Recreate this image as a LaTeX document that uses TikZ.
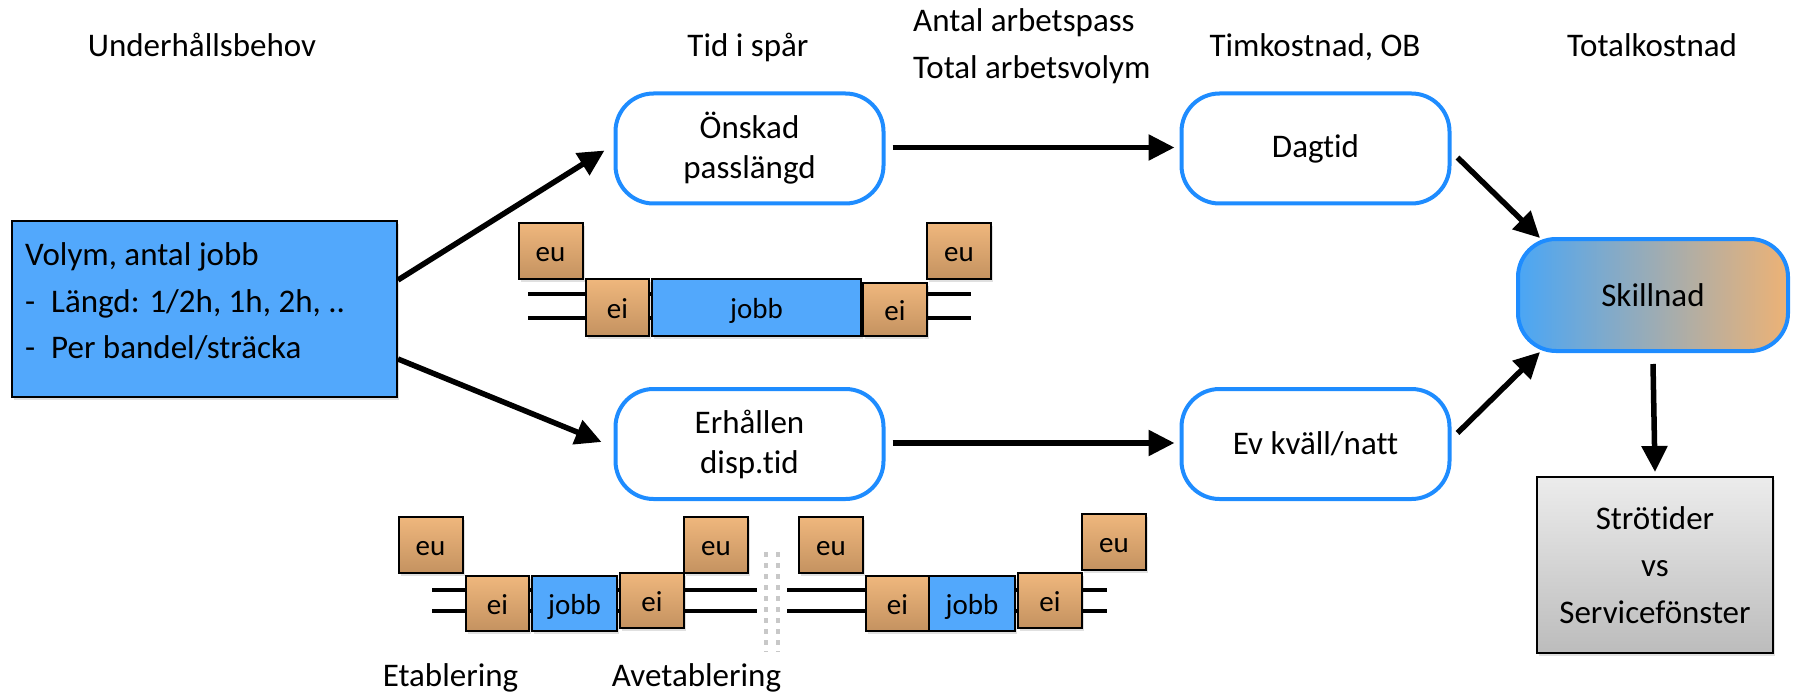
\documentclass[tikz,border=0pt]{standalone}
\usepackage{fontspec}
\setmainfont{Carlito}[Ligatures=NoCommon]
\usetikzlibrary{arrows.meta,shadows}

\definecolor{jobblue}{RGB}{82,168,252}
\definecolor{edgeblue}{RGB}{30,140,255}
\definecolor{orangetop}{RGB}{239,183,125}
\definecolor{orangebot}{RGB}{196,146,96}
\definecolor{diffleft}{RGB}{74,166,245}
\definecolor{diffright}{RGB}{237,178,117}
\definecolor{greytop}{RGB}{236,236,236}
\definecolor{greybot}{RGB}{188,188,188}
\definecolor{dotgrey}{RGB}{200,200,200}

\tikzset{
  txt/.style={font=\fontsize{33}{40}\selectfont, inner sep=0pt},
  small/.style={font=\fontsize{29}{32}\selectfont, text height=24pt, text depth=3pt},
  softshadow/.style={drop shadow={shadow xshift=2pt, shadow yshift=-3pt, opacity=0.12, fill=black}},
  roundbox/.style={draw=edgeblue, line width=4pt, rounded corners=38pt, fill=white,
    minimum width=268pt, minimum height=110pt, inner sep=0pt, align=center,
    font=\fontsize{33}{40}\selectfont},
  needbox/.style={draw=black, line width=2pt, fill=jobblue, inner sep=0pt, softshadow},
  eubox/.style={draw=black, line width=2pt, top color=orangetop, bottom color=orangebot,
    inner sep=0pt, minimum width=64pt, minimum height=56pt, small, softshadow},
  jobbox/.style={draw=black, line width=2pt, fill=jobblue, inner sep=0pt,
    minimum height=56pt, small, softshadow},
  rail/.style={line width=4.5pt, black},
  arr/.style={line width=5.5pt, -{Triangle[length=26pt,width=25pt]}},
  sep/.style={line width=4.5pt, dotgrey, dash pattern=on 4.5pt off 6.5pt},
}

\begin{document}
\begin{tikzpicture}[x=1pt,y=-1pt]
\useasboundingbox (0,0) rectangle (1793,695);

% column headings
\node[txt, anchor=base] (hneed) at (202,57) {Underhållsbehov};
\node[txt, anchor=base] (htrack) at (748,57) {Tid i spår};
\node[txt, anchor=base west] (hshifts) at (913,32) {Antal arbetspass};
\node[txt, anchor=base west] (hvolume) at (913,79) {Total arbetsvolym};
\node[txt, anchor=base] (hrate) at (1315,57) {Timkostnad, OB};
\node[txt, anchor=base] (htotal) at (1652,57) {Totalkostnad};

% maintenance need
\node[needbox, minimum width=385pt, minimum height=176pt] (need) at (204.5,309) {};
\node[txt, anchor=base west] (need1) at (25,265) {Volym, antal jobb};
\node[txt, anchor=base west] (need2) at (25,312) {\makebox[26pt][l]{-}Längd: 1/2h, 1h, 2h, ..};
\node[txt, anchor=base west] (need3) at (25,358) {\makebox[26pt][l]{-}Per bandel/sträcka};

% track time and shift boxes
\node[roundbox] (want) at (749.5,148.5) {Önskad\\passlängd};
\node[roundbox] (got) at (749.5,444) {Erhållen\\disp.tid};
\node[roundbox] (day) at (1315.5,148.5) {Dagtid};
\node[roundbox] (night) at (1315.5,444) {Ev kväll/natt};

% difference and result
\node[draw=edgeblue, line width=4pt, rounded corners=38pt, left color=diffleft, right color=diffright,
  minimum width=270pt, minimum height=112pt, inner sep=0pt, txt] (diff) at (1653,295) {Skillnad};
\node[draw=black, line width=2pt, top color=greytop, bottom color=greybot, softshadow,
  minimum width=236pt, minimum height=176pt, inner sep=0pt, align=center,
  font=\fontsize{33}{47}\selectfont] (window) at (1655,565) {Strötider\\vs\\Servicefönster};

% desired shift: rails and blocks
\coordinate (r1a) at (528,294); \coordinate (r1b) at (971,294);
\coordinate (r2a) at (528,318); \coordinate (r2b) at (971,318);
\draw[rail] (r1a) -- (r1b);
\draw[rail] (r2a) -- (r2b);
\node[eubox] (eu1) at (550.5,251) {eu};
\node[eubox, minimum width=63pt, minimum height=57pt] (ei1) at (617.5,307.5) {ei};
\node[jobbox, minimum width=209pt, minimum height=57pt] (job1) at (756.5,307.5) {jobb};
\node[eubox, minimum height=53pt] (ei2) at (895,309.5) {ei};
\node[eubox] (eu2) at (959,251) {eu};

% granted time: two short windows
\coordinate (s1a) at (432,590); \coordinate (s1b) at (757,590);
\coordinate (s2a) at (432,611); \coordinate (s2b) at (757,611);
\coordinate (t1a) at (787,590); \coordinate (t1b) at (1107,590);
\coordinate (t2a) at (787,611); \coordinate (t2b) at (1107,611);
\draw[rail] (s1a) -- (s1b);
\draw[rail] (s2a) -- (s2b);
\draw[rail] (t1a) -- (t1b);
\draw[rail] (t2a) -- (t2b);

\node[eubox] (eu3) at (430.5,545) {eu};
\node[eubox, minimum width=63pt, minimum height=55pt] (ei3) at (497.5,603.5) {ei};
\node[jobbox, minimum width=85pt, minimum height=55pt] (job2) at (574.5,603.5) {jobb};
\node[eubox, minimum height=55pt] (ei4) at (652,600.5) {ei};
\node[eubox] (eu4) at (716,545) {eu};

\node[eubox] (eu5) at (831,545) {eu};
\node[eubox, minimum width=63pt, minimum height=55pt] (ei5) at (897.5,603.5) {ei};
\node[jobbox, minimum width=86pt, minimum height=55pt] (job3) at (972,603.5) {jobb};
\node[eubox, minimum height=55pt] (ei6) at (1050,600.5) {ei};
\node[eubox] (eu6) at (1114,542) {eu};

% break between the two windows
\coordinate (d1a) at (766,552); \coordinate (d1b) at (766,652);
\coordinate (d2a) at (778,552); \coordinate (d2b) at (778,652);
\draw[sep] (d1a) -- (d1b);
\draw[sep] (d2a) -- (d2b);

\node[txt, anchor=base] (est) at (450.5,686) {Etablering};
\node[txt, anchor=base] (dis) at (696.5,686) {Avetablering};

% flow arrows
\draw[arr] ([yshift=29pt]need.east) -- ([xshift=-9pt,yshift=-2pt]want.west);
\draw[arr] ([yshift=-50pt]need.east) -- ([xshift=-12pt,yshift=2pt]got.west);
\draw[arr] ([xshift=7pt,yshift=1pt]want.east) -- ([xshift=-5pt,yshift=1pt]day.west);
\draw[arr] ([xshift=7pt,yshift=1pt]got.east) -- ([xshift=-5pt,yshift=1pt]night.west);
\draw[arr] ([xshift=6pt,yshift=-9pt]day.east) -- ([xshift=24pt,yshift=-1pt]diff.north west);
\draw[arr] ([xshift=6pt,yshift=11pt]night.east) -- ([xshift=24pt,yshift=1pt]diff.south west);
\draw[arr] ([yshift=-11pt]diff.south) -- ([yshift=4pt]window.north);
\end{tikzpicture}
\end{document}
